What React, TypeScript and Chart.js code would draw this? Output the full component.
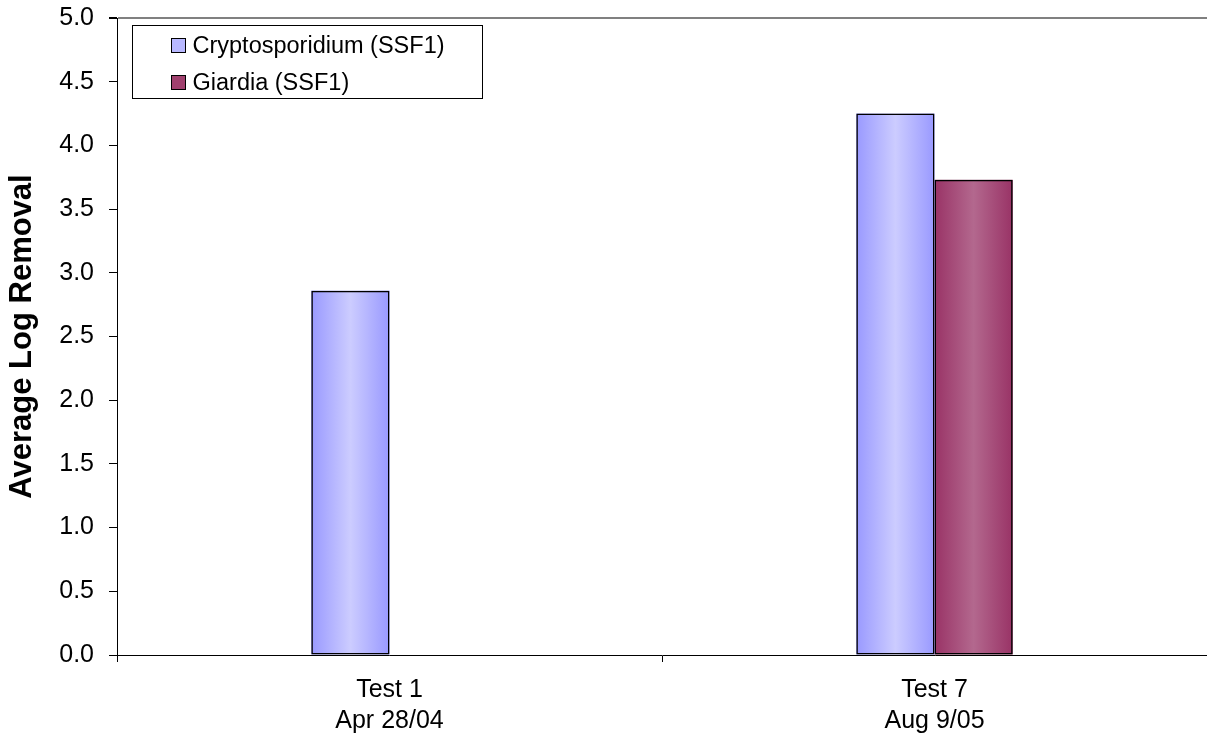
import React, { useEffect, useRef } from "react";
import { Chart, registerables } from "chart.js";

Chart.register(...registerables);

const categories: string[][] = [
  ["Test 1", "Apr 28/04"],
  ["Test 7", "Aug 9/05"],
];
const seriesNames = ["Cryptosporidium (SSF1)", "Giardia (SSF1)"];
const cryptoValues: (number | null)[] = [2.86, 4.25];
const giardiaValues: (number | null)[] = [null, 3.73];
const yAxisTitle = "Average Log Removal";
const yMin = 0;
const yMax = 5;
const yStep = 0.5;

const edgeColors = ["#9999FF", "#993366"];
const centerColors = ["#CCCCFF", "#B3688E"];
const legendColors = ["#B8B8FF", "#A0406E"];

const FONT = "'Liberation Sans', Arial, Helvetica, sans-serif";

const gradientPlugin = {
  id: "barGradient",
  beforeDatasetDraw(chart: any, args: any) {
    const ctx = chart.ctx;
    const idx = args.index;
    const ds = chart.data.datasets[idx];
    ctx.save();
    args.meta.data.forEach((el: any, i: number) => {
      if (ds.data[i] == null) return;
      const p = el.getProps(["x", "y", "base", "width"], true);
      const left = p.x - p.width / 2;
      const g = ctx.createLinearGradient(left, 0, left + p.width, 0);
      g.addColorStop(0, edgeColors[idx]);
      g.addColorStop(0.5, centerColors[idx]);
      g.addColorStop(1, edgeColors[idx]);
      ctx.fillStyle = g;
      ctx.fillRect(left, p.y, p.width, p.base - p.y);
    });
    ctx.restore();
  },
};

const legendPlugin = {
  id: "boxLegend",
  afterDraw(chart: any) {
    const ctx = chart.ctx;
    const area = chart.chartArea;
    const bx = Math.round(area.left + 15) + 0.5;
    const by = Math.round(area.top + 7) + 0.5;
    const bw = 350;
    const bh = 73;
    ctx.save();
    ctx.fillStyle = "#FFFFFF";
    ctx.fillRect(bx, by, bw, bh);
    ctx.strokeStyle = "#000000";
    ctx.lineWidth = 1;
    ctx.strokeRect(bx, by, bw, bh);
    ctx.font = `23.5px ${FONT}`;
    ctx.textBaseline = "middle";
    ctx.textAlign = "left";
    seriesNames.forEach((name, i) => {
      const cy = by + 20 + i * 37;
      const sx = bx + 39;
      ctx.fillStyle = legendColors[i];
      ctx.fillRect(sx, cy - 7, 14, 14);
      ctx.strokeStyle = "#000000";
      ctx.strokeRect(sx, cy - 7, 14, 14);
      ctx.fillStyle = "#000000";
      ctx.fillText(name, sx + 21, cy + 1);
    });
    ctx.restore();
  },
};

export default function App() {
  const ref = useRef<HTMLCanvasElement>(null);

  useEffect(() => {
    if (!ref.current) return;
    const chart = new Chart(ref.current, {
      type: "bar",
      data: {
        labels: categories as any,
        datasets: [
          {
            label: seriesNames[0],
            data: cryptoValues,
            backgroundColor: "rgba(0,0,0,0)",
            borderColor: "#000000",
            borderWidth: 1.5,
            borderSkipped: false,
          },
          {
            label: seriesNames[1],
            data: giardiaValues,
            backgroundColor: "rgba(0,0,0,0)",
            borderColor: "#000000",
            borderWidth: 1.5,
            borderSkipped: false,
          },
        ],
      },
      options: {
        responsive: false,
        animation: false,
        events: [],
        layout: { padding: { top: 18, left: 0, right: 0, bottom: 0 } },
        datasets: {
          bar: { categoryPercentage: 0.287, barPercentage: 1 },
        } as any,
        plugins: {
          legend: { display: false },
          tooltip: { enabled: false },
        },
        scales: {
          x: {
            grid: {
              offset: true,
              drawOnChartArea: false,
              tickLength: 7,
              tickColor: "#000000",
            },
            border: { color: "#000000", width: 1 },
            ticks: {
              color: "#000000",
              font: { family: FONT, size: 25, lineHeight: 1.25 },
              padding: 12,
              maxRotation: 0,
              autoSkip: false,
            },
            afterFit: (s: any) => {
              s.height = 85;
              s.paddingLeft = 0;
              s.paddingRight = 0;
            },
          },
          y: {
            min: yMin,
            max: yMax,
            grid: {
              color: (c: any) =>
                c.tick && c.tick.value === yMax ? "#808080" : "rgba(0,0,0,0)",
              lineWidth: (c: any) => (c.tick && c.tick.value === yMax ? 2 : 1),
              tickColor: "#000000",
              tickLength: 8,
              drawOnChartArea: true,
            },
            border: { color: "#000000", width: 1 },
            ticks: {
              stepSize: yStep,
              color: "#000000",
              font: { family: FONT, size: 25 },
              padding: 15,
              callback: (v: any) => Number(v).toFixed(1),
            },
            title: {
              display: true,
              text: yAxisTitle,
              color: "#000000",
              font: { family: FONT, size: 31, weight: "bold" },
              padding: { top: 4, bottom: 0 },
            },
            afterFit: (s: any) => {
              s.width = 117;
              s.paddingTop = 0;
              s.paddingBottom = 0;
            },
          },
        },
      },
      plugins: [gradientPlugin, legendPlugin],
    });
    return () => chart.destroy();
  }, []);

  return (
    <div style={{ position: "absolute", left: 0, top: 0, width: 1207, height: 740, background: "#FFFFFF" }}>
      <canvas ref={ref} width={1207} height={740} />
    </div>
  );
}
